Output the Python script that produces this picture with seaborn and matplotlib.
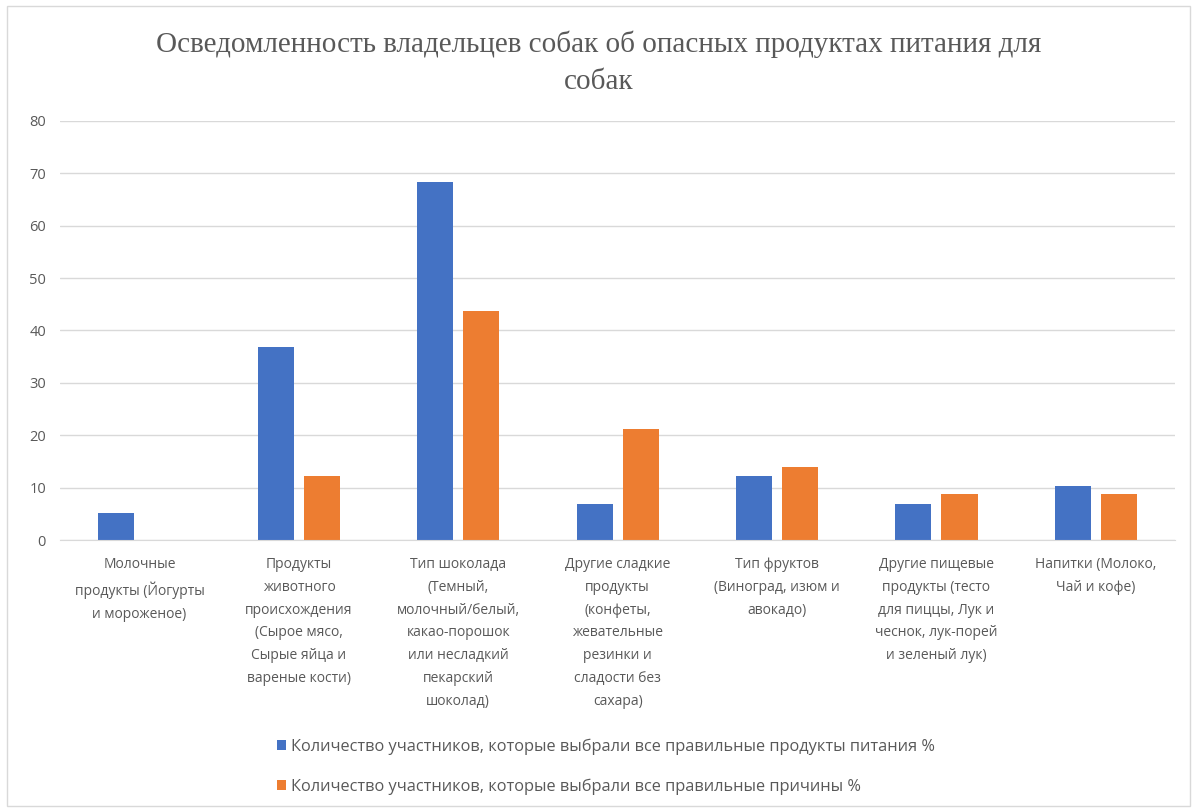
#!/usr/bin/env python3

import pandas as pd
from matplotlib import pyplot as plt
from matplotlib.patches import Rectangle
import seaborn as sns

categories = [
    'Молочные\nпродукты (Йогурты\nи мороженое)',
    'Продукты\nживотного\nпроисхождения\n(Сырое мясо,\nСырые яйца и\nвареные кости)',
    'Тип шоколада\n(Темный,\nмолочный/белый,\nкакао-порошок\nили несладкий\nпекарский\nшоколад)',
    'Другие сладкие\nпродукты\n(конфеты,\nжевательные\nрезинки и\nсладости без\nсахара)',
    'Тип фруктов\n(Виноград, изюм и\nавокадо)',
    'Другие пищевые\nпродукты (тесто\nдля пиццы, Лук и\nчеснок, лук-порей\nи зеленый лук)',
    'Напитки (Молоко,\nЧай и кофе)',
]
foods_correct = [5.2, 36.8, 68.4, 6.9, 12.2, 6.9, 10.4]
reasons_correct = [0, 12.2, 43.8, 21.1, 13.9, 8.7, 8.7]
series = ['Количество участников, которые выбрали все правильные продукты питания %',
          'Количество участников, которые выбрали все правильные причины %']
title = 'Осведомленность владельцев собак об опасных продуктах питания для\nсобак'
yticks = [0, 10, 20, 30, 40, 50, 60, 70, 80]

df = pd.DataFrame({
    'category': categories * 2,
    'value': foods_correct + reasons_correct,
    'series': [series[0]] * len(categories) + [series[1]] * len(categories),
})

sns.set_style("white")
plt.rcParams['font.family'] = ['Open Sans', 'DejaVu Sans']

fig = plt.figure(figsize=(11.97, 8.09), dpi=100)
ax = fig.add_axes([0.050, 0.3325, 0.932, 0.518])

sns.barplot(data=df, x='category', y='value', hue='series',
            palette=['#4472C4', '#ED7D31'], saturation=1, width=0.58, gap=0.22,
            linewidth=0, edgecolor='none', ax=ax, legend=True)

ax.set_ylim(0, 80)
ax.set_yticks(yticks)
ax.set_xlim(-0.5, len(categories) - 0.5)
ax.yaxis.grid(True, color='#d9d9d9', linewidth=1)
ax.set_axisbelow(True)
for s in ['left', 'right', 'top']:
    ax.spines[s].set_visible(False)
ax.spines['bottom'].set_color('#d9d9d9')
ax.tick_params(axis='both', length=0, colors='#595959', labelsize=10)
ax.tick_params(axis='y', pad=10, labelsize=10.5)
ax.tick_params(axis='x', pad=12)
for lbl in ax.get_xticklabels():
    lbl.set_linespacing(1.72)
ax.set_xlabel('')
ax.set_ylabel('')

handles, labels = ax.get_legend_handles_labels()
ax.get_legend().remove()
fig.legend(handles, labels, loc='upper left', bbox_to_anchor=(0.226, 0.095),
           frameon=False, fontsize=11.8, labelcolor='#595959',
           handlelength=0.55, handleheight=0.55, handletextpad=0.3,
           labelspacing=1.45, borderaxespad=0)

fig.text(0.5, 0.962, title, ha='center', va='top', fontsize=21,
         family='Liberation Serif', color='#595959', linespacing=1.55)

fig.patches.append(Rectangle((0.006, 0.004), 0.988, 0.988, transform=fig.transFigure,
                             fill=False, edgecolor='#d9d9d9', linewidth=1))

plt.savefig('out.png', dpi=100)
